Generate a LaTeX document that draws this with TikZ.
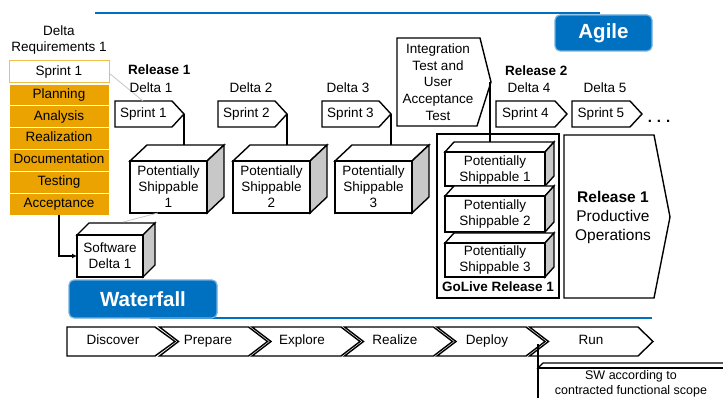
\documentclass[tikz,border=0pt]{standalone}
\usepackage{fontspec}
\setmainfont{Liberation Sans}
\usetikzlibrary{arrows.meta}
\definecolor{sapblue}{RGB}{0,112,192}
\definecolor{sapgold}{RGB}{234,163,0}
\definecolor{sidegray}{RGB}{200,200,200}
\newcommand\mycube[7]{%
  \draw[outline] (#1,#2) -- (#1+#5,#2-#6) -- (#3+#5,#2-#6) -- (#3,#2) -- cycle;
  \draw[cubeside] (#3,#2) -- (#3+#5,#2-#6) -- (#3+#5,#4-#6) -- (#3,#4) -- cycle;
  \draw[outline] (#1,#2) rectangle (#3,#4);
  \coordinate (#7-top) at ({(#1+#3)/2+#5/2},#2-#6);
}
\begin{document}
\begin{tikzpicture}[x=1pt,y=-1pt,line join=miter]
\tikzset{
  outline/.style={draw=black,line width=1.4pt,fill=white},
  cubeside/.style={draw=black,line width=1.4pt,fill=sidegray},
  txt/.style={font=\fontsize{13.5}{16}\selectfont,align=center,inner sep=0pt},
  one/.style={txt,text height=9.7pt,text depth=2.9pt},
  btxt/.style={font=\fontsize{13.5}{16}\selectfont\bfseries,align=center,inner sep=0pt,text height=9.7pt,text depth=2.9pt},
  bluebox/.style={fill=sapblue,draw=sapblue!55,line width=1.2pt,rounded corners=5pt},
  bluetxt/.style={text=white,font=\fontsize{20.5}{24}\selectfont\bfseries,inner sep=0pt},
  phase/.style={fill=sapgold,draw=white,line width=0.9pt},
  link/.style={draw=black,line width=1.4pt},
  faint/.style={draw=gray!45,line width=0.8pt},
  blueline/.style={draw=sapblue,line width=2pt},
}
\useasboundingbox (0,0) rectangle (723,398);

% ---------- Agile header
\draw[blueline] (95,13) -- (600,13);
\draw[bluebox] (555,15) rectangle (652,51);
\node[bluetxt] (agile) at (603.5,33) {Agile};

% ---------- Delta requirements column
\node[txt] (dreq) at (59,40) {Delta\\Requirements 1};
\draw[draw=sapgold!70,line width=1pt,fill=white] (9,61) rectangle (109,83);
\node[one] (spr0) at (59,72) {Sprint 1};
\coordinate (spr0r) at (109,73);
\foreach \t [count=\i from 0] in {Planning,Analysis,Realization,Documentation,Testing,Acceptance}{
  \draw[phase] (9,{84+21.83*\i}) rectangle (109,{84+21.83*(\i+1)});
  \node[one] (ph\i) at (59,{84+21.83*(\i+0.5)}) {\t};
}
\coordinate (accbot) at (59,215);

% ---------- Sprint arrows
\foreach \n/\l/\tp in {1/115/184,2/218/287,3/322/391,4/496/567,5/572/642}{
  \draw[outline] (\l,101) -- (\tp-12,101) -- (\tp,114) -- (\tp-12,127) -- (\l,127) -- cycle;
  \node[one] (spr\n) at ({(\l+\tp-12)/2},114) {Sprint \n};
  \coordinate (tip\n) at (\tp,114);
}
\coordinate (spr1l) at (143,101);
\draw[faint] (spr0r) -- (spr1l);

\node[btxt,anchor=west] (rel1) at (128,71) {Release 1};
\node[one] (d1) at (151,89) {Delta 1};
\node[one] (d2) at (251,89) {Delta 2};
\node[one] (d3) at (348,89) {Delta 3};
\node[btxt,anchor=west] (rel2) at (505,72) {Release 2};
\node[one] (d4) at (529,89) {Delta 4};
\node[one] (d5) at (605,89) {Delta 5};
\node[font=\fontsize{15}{16}\selectfont\bfseries,inner sep=0pt] (dots) at (659,121) {.\,\,.\,\,.};

% ---------- Potentially shippable cubes
\mycube{130}{161}{207}{213}{17}{16}{c1}
\mycube{233}{161}{310}{213}{17}{16}{c2}
\mycube{335}{161}{412}{213}{17}{16}{c3}
\foreach \n/\x in {1/168.5,2/271.5,3/373.5}{
  \node[txt] (ps\n) at (\x,187) {Potentially\\Shippable\\\n};
}
\draw[link] (tip1) -- (tip1 |- c1-top);
\draw[link] (tip2) -- (tip2 |- c2-top);
\draw[link] (tip3) -- (tip3 |- c3-top);

% ---------- Software Delta 1
\mycube{77}{235}{143}{277}{12}{12}{sw}
\node[txt] (swd) at (110,256) {Software\\Delta 1};
\coordinate (swl) at (77,256);
\draw[link,-{Latex[length=5pt,width=5pt]}] (accbot) |- (swl);
\coordinate (swtop) at (123,222);
\coordinate (c1bot) at (158,213);
\draw[faint] (swtop) -- (c1bot);

% ---------- Integration test
\draw[outline] (397,38) -- (480,38) -- (491,82) -- (477,126) -- (397,126) -- cycle;
\node[font=\fontsize{13.5}{16.75}\selectfont,align=center,inner sep=0pt] (itest) at (438,82)
  {Integration\\Test and\\User\\Acceptance\\Test};
\coordinate (ittip) at (490,82);

% ---------- GoLive frame
\draw[draw=black,line width=1.4pt] (437,134) rectangle (559,298);
\mycube{445}{152}{545}{186}{9}{10}{g1}
\mycube{445}{196}{545}{232}{9}{10}{g2}
\mycube{445}{243}{545}{277}{9}{10}{g3}
\node[txt] (gp1) at (495,170) {Potentially\\Shippable 1};
\node[txt] (gp2) at (495,214) {Potentially\\Shippable 2};
\node[txt] (gp3) at (495,260) {Potentially\\Shippable 3};
\node[btxt] (golive) at (498,288) {GoLive Release 1};
\draw[link] (ittip) -- (ittip |- g1-top);

% ---------- Release 1 productive operations
\draw[outline] (564,135) -- (654,135) -- (670,217) -- (654,298) -- (564,298) -- cycle;
\node[font=\fontsize{15.5}{19}\selectfont,align=center,inner sep=0pt] (prod) at (613,217)
  {\textbf{Release 1}\\Productive\\Operations};

% ---------- Waterfall
\draw[blueline] (150,318) -- (652,318);
\draw[bluebox] (69,280) rectangle (217,318);
\node[bluetxt] (wf) at (143,299) {Waterfall};

\draw[outline] (67,327) -- (155,327) -- (175,341.5) -- (155,356) -- (67,356) -- cycle;
\node[one] (ph-discover) at (113,341.5) {Discover};
\foreach \i/\t/\cx in {1/Prepare/208,2/Explore/302,3/Realize/395,4/Deploy/487}{
  \pgfmathsetmacro\L{67+92.5*\i}
  \draw[outline] (\L,327) -- (\L+89,327) -- (\L+108,341.5) -- (\L+89,356) -- (\L,356) -- (\L+19,341.5) -- cycle;
  \node[one] (wph\i) at (\cx,341.5) {\t};
}
\draw[outline] (529.5,327) -- (638,327) -- (653,341.5) -- (638,356) -- (529.5,356) -- (548.5,341.5) -- cycle;
\node[one] (wrun) at (591,341.5) {Run};

% ---------- SW according to contracted functional scope
\coordinate (runl) at (538,344);
\mycube{538}{368}{735}{405}{5}{5}{swc}
\coordinate (swcl) at (538,368);
\draw[link] (runl) -- (swcl);
\node[font=\fontsize{12.5}{15}\selectfont,align=center,inner sep=0pt] (swcs) at (631,383.5)
  {SW according to\\contracted functional scope};
\end{tikzpicture}
\end{document}
